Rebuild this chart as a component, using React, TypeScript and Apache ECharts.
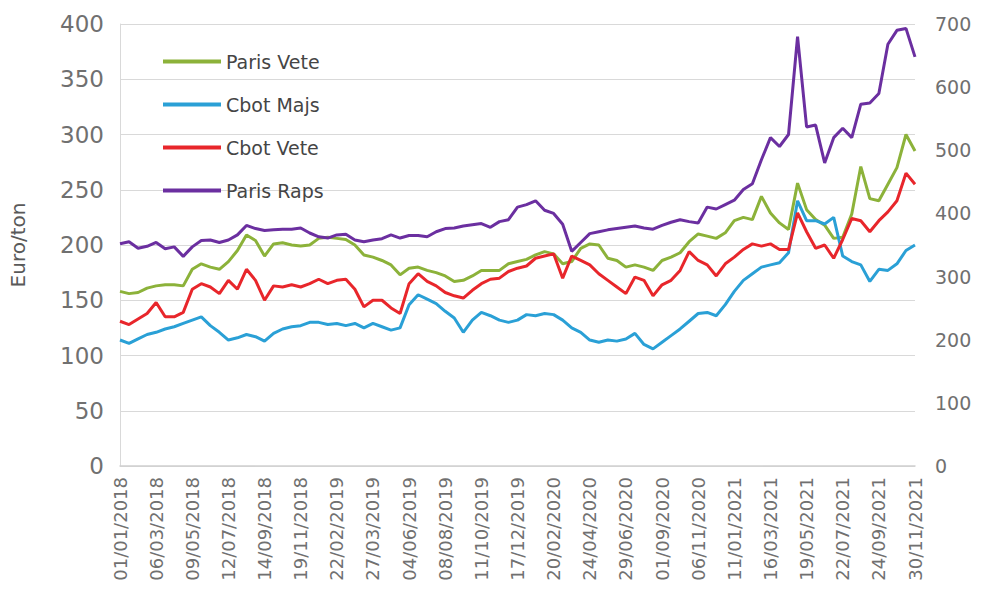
import React, { useEffect, useRef } from "react";
import * as echarts from "echarts";

const tickLabels = [
  "01/01/2018", "06/03/2018", "09/05/2018", "12/07/2018", "14/09/2018", "19/11/2018",
  "22/02/2019", "27/03/2019", "04/06/2019", "08/08/2019", "11/10/2019", "17/12/2019",
  "20/02/2020", "24/04/2020", "29/06/2020", "01/09/2020", "06/11/2020", "11/01/2021",
  "16/03/2021", "19/05/2021", "22/07/2021", "24/09/2021", "30/11/2021",
];
const STEPS_PER_TICK = 4;

const parisVete = [
  158, 156, 157, 161, 163, 164, 164, 163, 178, 183, 180, 178, 185, 195, 209, 204, 190, 201, 202, 200,
  199, 200, 206, 207, 206, 205, 200, 191, 189, 186, 182, 173, 179, 180, 177, 175, 172, 167, 168, 172,
  177, 177, 177, 183, 185, 187, 191, 194, 192, 183, 185, 197, 201, 200, 188, 186, 180, 182, 180, 177,
  186, 189, 193, 203, 210, 208, 206, 211, 222, 225, 223, 244, 229, 220, 214, 256, 232, 223, 218, 206,
  207, 228, 271, 242, 240, 255, 270, 300, 285,
];
const cbotMajs = [
  114, 111, 115, 119, 121, 124, 126, 129, 132, 135, 127, 121, 114, 116, 119, 117, 113, 120, 124, 126,
  127, 130, 130, 128, 129, 127, 129, 125, 129, 126, 123, 125, 146, 155, 151, 147, 140, 134, 121, 132,
  139, 136, 132, 130, 132, 137, 136, 138, 137, 132, 125, 121, 114, 112, 114, 113, 115, 120, 110, 106,
  112, 118, 124, 131, 138, 139, 136, 146, 158, 168, 174, 180, 182, 184, 193, 240, 222, 222, 219, 225,
  190, 185, 182, 167, 178, 177, 183, 195, 200,
];
const cbotVete = [
  131, 128, 133, 138, 148, 135, 135, 139, 160, 165, 162, 156, 168, 160, 178, 168, 150, 163, 162, 164,
  162, 165, 169, 165, 168, 169, 160, 144, 150, 150, 143, 138, 165, 174, 167, 163, 157, 154, 152, 159,
  165, 169, 170, 176, 179, 181, 188, 190, 192, 170, 190, 186, 182, 174, 168, 162, 156, 171, 168, 154,
  164, 168, 177, 194, 186, 182, 172, 183, 189, 196, 201, 199, 201, 196, 196, 229, 212, 197, 200, 188,
  205, 224, 222, 212, 222, 230, 240, 265, 255,
];
const parisRaps = [
  352, 355, 345, 348, 354, 344, 347, 332, 347, 357, 358, 354, 358, 366, 381, 376, 373, 374, 375, 375,
  377, 369, 363, 361, 366, 367, 358, 355, 358, 360, 366, 361, 365, 365, 363, 371, 376, 377, 380, 382,
  384, 378, 387, 390, 410, 414, 420, 405, 400, 383, 340, 354, 368, 371, 374, 376, 378, 380, 377, 375,
  381, 386, 390, 387, 385, 410, 407, 414, 421, 438, 447, 485, 520, 506, 525, 680, 537, 540, 480, 520,
  535, 520, 573, 575, 590, 668, 690, 693, 648,
];

const categories = parisVete.map((_, i) =>
  i % STEPS_PER_TICK === 0
    ? tickLabels[i / STEPS_PER_TICK]
    : tickLabels[Math.floor(i / STEPS_PER_TICK)] + " +" + (i % STEPS_PER_TICK)
);

const FONT = "DejaVu Sans";

export default function App() {
  const ref = useRef<HTMLDivElement>(null);
  useEffect(() => {
    if (!ref.current) return;
    const chart = echarts.init(ref.current, undefined, { renderer: "svg" });
    const line = (name: string, data: number[], color: string, yAxisIndex = 0) => ({
      name,
      type: "line",
      data,
      yAxisIndex,
      showSymbol: false,
      symbol: "none",
      lineStyle: { color, width: 3 },
      itemStyle: { color },
    });
    chart.setOption({
      animation: false,
      backgroundColor: "#ffffff",
      textStyle: { fontFamily: FONT },
      grid: { left: 113, right: 72, top: 24, bottom: 128 },
      legend: {
        orient: "vertical",
        left: 158,
        top: 47,
        itemWidth: 58,
        itemHeight: 4,
        itemGap: 24,
        icon: "rect",
        textStyle: { fontFamily: FONT, fontSize: 19, color: "#454545" },
        data: ["Paris Vete", "Cbot Majs", "Cbot Vete", "Paris Raps"],
      },
      xAxis: {
        type: "category",
        boundaryGap: false,
        data: categories,
        axisLine: { show: true, lineStyle: { color: "#d0d0d0", width: 1.5 } },
        axisTick: { show: false },
        splitLine: { show: false },
        axisLabel: {
          interval: (i: number) => i % STEPS_PER_TICK === 0,
          formatter: (v: string, i: number) => tickLabels[i / STEPS_PER_TICK] ?? "",
          rotate: 90,
          margin: 11,
          fontFamily: FONT,
          fontSize: 18,
          color: "#707070",
        },
      },
      yAxis: [
        {
          type: "value",
          min: 0,
          max: 400,
          interval: 50,
          name: "Euro/ton",
          nameLocation: "middle",
          nameGap: 92,
          nameTextStyle: { fontFamily: FONT, fontSize: 20, color: "#595959" },
          axisLine: { show: true, lineStyle: { color: "#d9d9d9" } },
          axisTick: { show: false },
          splitLine: { lineStyle: { color: "#d9d9d9", width: 1.2 } },
          axisLabel: { margin: 16, fontFamily: FONT, fontSize: 23, color: "#707070" },
        },
        {
          type: "value",
          min: 0,
          max: 700,
          interval: 100,
          position: "right",
          axisLine: { show: false },
          axisTick: { show: false },
          splitLine: { show: false },
          axisLabel: { margin: 20, fontFamily: FONT, fontSize: 19, color: "#707070" },
        },
      ],
      series: [
        line("Paris Vete", parisVete, "#8cb23a"),
        line("Cbot Majs", cbotMajs, "#2aa0d6"),
        line("Cbot Vete", cbotVete, "#e8262b"),
        line("Paris Raps", parisRaps, "#6b2fa0", 1),
      ],
    });
    return () => chart.dispose();
  }, []);
  return (
    <div
      ref={ref}
      style={{ position: "fixed", left: 0, top: 0, width: 987, height: 594, background: "#fff" }}
    />
  );
}
